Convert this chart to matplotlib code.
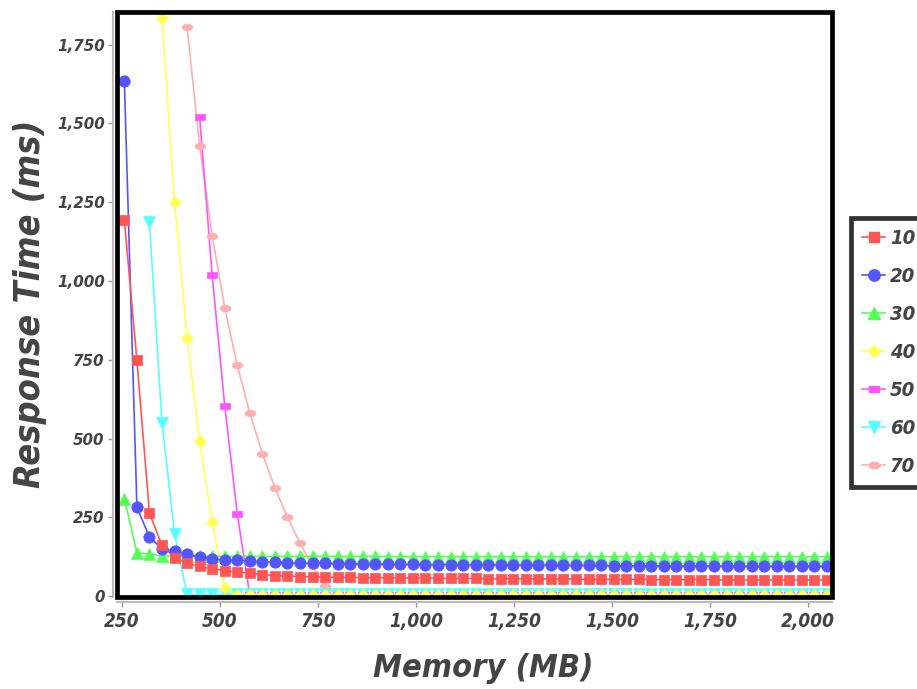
import os
import numpy as np
import matplotlib
matplotlib.use("Agg")
import matplotlib.pyplot as plt
from matplotlib.path import Path
from matplotlib.lines import Line2D
from matplotlib.patches import Rectangle
from matplotlib.ticker import FuncFormatter
from matplotlib import font_manager
from matplotlib.font_manager import FontProperties

nan = float("nan")

# ---------------- data ----------------
memory_mb = list(range(256, 2049, 32))  # 57 memory settings

series_labels = ["10", "20", "30", "40", "50", "60", "70"]

resp_10 = [1193, 748, 263, 161, 122, 104, 94, 86, 81, 76,
           72, 68, 65, 63, 62, 61, 60, 59, 59, 58,
           58, 58, 57, 57, 57, 56, 56, 56, 56, 55,
           55, 55, 55, 54, 54, 54, 54, 53, 53, 53,
           53, 53, 52, 52, 52, 52, 52, 52, 51, 51,
           51, 51, 51, 51, 51, 51, 51]
resp_20 = [1634, 282, 187, 150, 142, 132, 125, 118, 115, 113,
           111, 109, 107, 106, 105, 104, 104, 103, 103, 102,
           102, 101, 101, 101, 100, 100, 100, 99, 99, 99,
           99, 98, 98, 98, 98, 97, 97, 97, 97, 96,
           96, 96, 96, 96, 95, 95, 95, 95, 95, 95,
           94, 94, 94, 94, 94, 94, 94]
resp_30 = [309, 138, 133, 128, 127, 126, 126, 126, 126, 126,
           126, 126, 126, 126, 126, 126, 126, 126, 126, 126,
           126, 125, 125, 125, 125, 125, 125, 125, 125, 125,
           125, 125, 125, 125, 125, 125, 125, 125, 125, 125,
           125, 125, 125, 125, 125, 125, 125, 125, 125, 125,
           125, 125, 125, 125, 125, 125, 125]
resp_40 = [nan, nan, nan, 1833, 1251, 820, 492, 234, 26,
           3, 3, 3, 3, 3, 3, 3, 3, 3, 3,
           3, 3, 3, 3, 3, 3, 3, 3, 3, 3,
           3, 3, 3, 3, 3, 3, 3, 3, 3, 3,
           3, 3, 3, 3, 3, 3, 3, 3, 3, 3,
           3, 3, 3, 3, 3, 3, 3, 3]
resp_50 = [nan, nan, nan, nan, nan, nan, 1521, 1018, 604, 261,
           3, 3, 3, 3, 3, 3, 3, 3, 3, 3,
           3, 3, 3, 3, 3, 3, 3, 3, 3, 3,
           3, 3, 3, 3, 3, 3, 3, 3, 3, 3,
           3, 3, 3, 3, 3, 3, 3, 3, 3, 3,
           3, 3, 3, 3, 3, 3, 3]
resp_60 = [nan, nan, 1187, 549, 198,
           5, 5, 5, 5, 5, 5, 5, 5, 5, 5,
           5, 5, 5, 5, 5, 5, 5, 5, 5, 5,
           5, 5, 5, 5, 5, 5, 5, 5, 5, 5,
           5, 5, 5, 5, 5, 5, 5, 5, 5, 5,
           5, 5, 5, 5, 5, 5, 5, 5, 5, 5,
           5, 5]
resp_70 = [nan, nan, nan, nan, nan, 1805, 1429, 1143, 915, 732,
           581, 452, 344, 250, 168, 95, 33,
           3, 3, 3, 3, 3, 3, 3, 3, 3, 3,
           3, 3, 3, 3, 3, 3, 3, 3, 3, 3,
           3, 3, 3, 3, 3, 3, 3, 3, 3, 3,
           3, 3, 3, 3, 3, 3, 3, 3, 3, 3]

x_ticks = [250, 500, 750, 1000, 1250, 1500, 1750, 2000]
y_ticks = [0, 250, 500, 750, 1000, 1250, 1500, 1750]

all_series = [resp_10, resp_20, resp_30, resp_40, resp_50, resp_60, resp_70]
for s in all_series:
    assert len(s) == len(memory_mb), len(s)

# ---------------- fonts ----------------
def find_font(keys):
    files = [f.fname for f in font_manager.fontManager.ttflist]
    for k in keys:
        for fn in files:
            if os.path.basename(fn).lower().startswith(k.lower()):
                return fn
    return None

cond_file = find_font(["DejaVuSansCondensed-BoldOblique", "LiberationSansNarrow-BoldItalic",
                       "RobotoCondensed-BoldItalic", "NotoSans-CondensedBoldItalic",
                       "OpenSans-CondensedBoldItalic", "LiberationSans-BoldItalic"])

def cond_fp(size):
    if cond_file:
        return FontProperties(fname=cond_file, size=size)
    return FontProperties(family="DejaVu Sans", weight="bold", style="italic", size=size)

def dv_fp(size):
    return FontProperties(family="DejaVu Sans", weight="bold", style="italic", size=size)

text_col = "#444444"
colors = ["#FF5555", "#5555FF", "#55FF55", "#FFFF55", "#FF55FF", "#55FFFF", "#FFAFAF"]

rect_path = Path([(-1, -0.5), (1, -0.5), (1, 0.5), (-1, 0.5), (-1, -0.5)],
                 [Path.MOVETO, Path.LINETO, Path.LINETO, Path.LINETO, Path.CLOSEPOLY])
circ = Path.unit_circle()
ell_path = Path(circ.vertices * np.array([1.0, 0.6]), circ.codes)

markers = ["s", "o", "^", "D", rect_path, "v", ell_path]
msizes = [7.5, 8.2, 8.0, 6.0, 7.8, 8.0, 7.8]

W, H = 917, 689
fig = plt.figure(figsize=(W / 100, H / 100), dpi=100)
ax_l, ax_r, ax_t, ax_b = 117.5, 832.0, 12.5, 597.0
ax = fig.add_axes([ax_l / W, 1 - ax_b / H, (ax_r - ax_l) / W, (ax_b - ax_t) / H])

ax.set_xlim(238.5, 2061)
ax.set_ylim(-3, 1852)

n = len(all_series)
for i, vals in enumerate(all_series):
    ax.plot(memory_mb, vals, color=colors[i], lw=1.2, zorder=2 + (n - i) * 0.01,
            solid_joinstyle="round")
for i, vals in enumerate(all_series):
    ax.plot(memory_mb, vals, ls="none", marker=markers[i], ms=msizes[i],
            color=colors[i], mec=colors[i], mew=0.5, zorder=3 + (n - i) * 0.01)

ax.add_patch(Rectangle((0, 0), 1, 1, transform=ax.transAxes, fill=False,
                       ec="black", lw=3.4, zorder=10, clip_on=False))
ax.spines["top"].set_visible(False)
ax.spines["right"].set_visible(False)
for side, off in (("left", 3.2), ("bottom", 3.6)):
    ax.spines[side].set_position(("outward", off))
    ax.spines[side].set_color("#bbbbbb")
    ax.spines[side].set_linewidth(1.5)

ax.set_xticks(x_ticks)
ax.set_yticks(y_ticks)
fmt = FuncFormatter(lambda v, p: f"{int(v):,}")
ax.xaxis.set_major_formatter(fmt)
ax.yaxis.set_major_formatter(fmt)
ax.tick_params(direction="out", length=3.5, width=1, color="#999999",
               labelcolor=text_col)
ax.tick_params(axis="y", pad=2.5)
ax.tick_params(axis="x", pad=4)

xl = fig.text(483 / W, 1 - 668 / H, "Memory (MB)", ha="center", va="center",
              fontproperties=cond_fp(26), color=text_col)
yl = fig.text(30 / W, 1 - 304 / H, "Response Time (ms)", ha="center", va="center",
              rotation=90, fontproperties=cond_fp(26), color=text_col)

renderer = fig.canvas.get_renderer()

def set_tick_fp(labels, fpfun, size):
    for lab in labels:
        lab.set_fontproperties(fpfun(size))
        lab.set_color(text_col)

# fit tick label sizes to measured widths of "1,000"
xs, ys = 14.0, 10.5
for _ in range(2):
    set_tick_fp(ax.get_xticklabels(), cond_fp, xs)
    set_tick_fp(ax.get_yticklabels(), dv_fp, ys)
    fig.canvas.draw()
    xw = [l for l in ax.get_xticklabels() if l.get_text() == "1,000"][0].get_window_extent(renderer).width
    yw = [l for l in ax.get_yticklabels() if l.get_text() == "1,000"][0].get_window_extent(renderer).width
    xs *= 54.0 / xw
    ys *= 48.0 / yw
set_tick_fp(ax.get_xticklabels(), cond_fp, xs)
set_tick_fp(ax.get_yticklabels(), dv_fp, ys)

# fit axis titles to measured lengths
for _ in range(2):
    fig.canvas.draw()
    wx = xl.get_window_extent(renderer).width
    hy = yl.get_window_extent(renderer).height
    xl.set_fontsize(xl.get_fontsize() * 220.0 / wx)
    yl.set_fontsize(yl.get_fontsize() * 369.0 / hy)

# legend
handles = [Line2D([0], [0], color=colors[i], lw=1.2, marker=markers[i],
                  ms=msizes[i], mec=colors[i]) for i in range(n)]

BP = 11.0  # border pad in pixels

def make_legend(size):
    fs_px = size * 100 / 72.0
    h = fs_px * 1.0
    return fig.legend(handles, series_labels, loc="upper left",
                      bbox_to_anchor=((862 - BP) / W, 1 - 218 / H),
                      bbox_transform=fig.transFigure,
                      borderaxespad=0, fancybox=False, frameon=True,
                      prop=cond_fp(size),
                      handlelength=23.0 / fs_px, handletextpad=5.0 / fs_px,
                      labelspacing=max(0.1, (39.3 - h) / fs_px),
                      borderpad=BP / fs_px)

lsize = 16.0
leg = make_legend(lsize)
for _ in range(10):
    fig.canvas.draw()
    x1 = max(t.get_window_extent(renderer).x1 for t in leg.get_texts())
    if x1 <= 915.5:
        break
    leg.remove()
    lsize *= 0.97
    leg = make_legend(lsize)
leg.get_frame().set_edgecolor("black")
leg.get_frame().set_linewidth(3.4)
for t in leg.get_texts():
    t.set_color(text_col)

fig.savefig("out.png", dpi=100)
